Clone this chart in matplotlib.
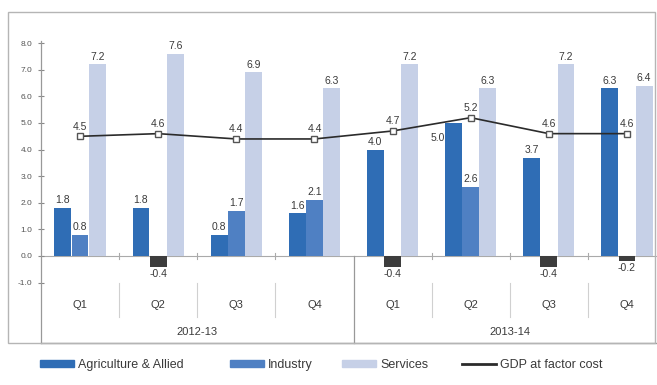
import numpy as np
import matplotlib
matplotlib.use("Agg")
import matplotlib.pyplot as plt
from matplotlib.patches import Patch, Rectangle
from matplotlib.lines import Line2D

plt.rcParams['font.family'] = ['Liberation Sans', 'DejaVu Sans']

quarters = ["Q1", "Q2", "Q3", "Q4", "Q1", "Q2", "Q3", "Q4"]
years = ["2012-13", "2013-14"]
agri = [1.8, 1.8, 0.8, 1.6, 4.0, 5.0, 3.7, 6.3]
industry = [0.8, -0.4, 1.7, 2.1, -0.4, 2.6, -0.4, -0.2]
services = [7.2, 7.6, 6.9, 6.3, 7.2, 6.3, 7.2, 6.4]
gdp = [4.5, 4.6, 4.4, 4.4, 4.7, 5.2, 4.6, 4.6]
yticks = [-1, 0, 1, 2, 3, 4, 5, 6, 7, 8]

c_agri = "#2f6db5"
c_ind = "#4f80c3"
c_neg = "#3d3d3d"
c_serv = "#c6d0e7"
c_gdp = "#2b2b2b"
c_txt = "#3a3a3a"

W, H = 657, 385
fig = plt.figure(figsize=(W / 100, H / 100), dpi=100)
# axes: left x=41, right ~657, top y=30, bottom y=343
ax = fig.add_axes([41 / W, 1 - 343 / H, (657 - 41) / W, (343 - 30) / H])

# outer chart frame
fig.patches.append(Rectangle((8 / W, 1 - 343 / H), (655 - 8) / W, (343 - 12) / H,
                             transform=fig.transFigure, fill=False,
                             edgecolor="#b5b5b5", linewidth=1.0))

x = np.arange(len(quarters))
bw = 0.215
off = 0.22
ind_colors = [c_ind if v >= 0 else c_neg for v in industry]
ax.bar(x - off, agri, bw, color=c_agri, zorder=2)
ax.bar(x, industry, bw, color=ind_colors, zorder=2)
ax.bar(x + off, services, bw, color=c_serv, zorder=2)
ax.plot(x, gdp, color=c_gdp, linewidth=1.2, marker="s", markersize=4,
        markerfacecolor="white", markeredgecolor="#555555", zorder=3)

fs = 7.5
for i in range(len(x)):
    # agriculture labels
    if i == 5:
        ax.text(x[i] - off - bw / 2, agri[i] - 0.55, f"{agri[i]:.1f}", ha="right",
                va="center", fontsize=fs, color=c_txt)
    else:
        ax.text(x[i] - off, agri[i] + 0.1, f"{agri[i]:.1f}", ha="center",
                va="bottom", fontsize=fs, color=c_txt)
    v = industry[i]
    if v >= 0:
        ax.text(x[i], v + 0.1, f"{v:.1f}", ha="center", va="bottom", fontsize=fs, color=c_txt)
    else:
        ax.text(x[i], v - 0.08, f"{v:.1f}", ha="center", va="top", fontsize=fs, color=c_txt)
    ax.text(x[i] + off, services[i] + 0.1, f"{services[i]:.1f}", ha="center",
            va="bottom", fontsize=fs, color=c_txt)
    ax.text(x[i], gdp[i] + 0.18, f"{gdp[i]:.1f}", ha="center", va="bottom",
            fontsize=fs, color=c_txt, zorder=4)

ax.set_xlim(-0.5, 7.5 - 9 / 78)
ax.set_ylim(-(343 - 256) / 26.6, (256 - 30) / 26.6)
ymin = ax.get_ylim()[0]
ax.set_yticks(yticks)
ax.set_yticklabels([f"{t:.1f}" for t in yticks], fontsize=6, color="#555555")
ax.tick_params(axis="y", direction="inout", length=4, width=0.8, color="#888888", pad=4)
ax.set_xticks([])
for s in ["top", "right", "bottom"]:
    ax.spines[s].set_visible(False)
ax.spines["left"].set_color("#999999")
ax.spines["left"].set_linewidth(0.9)
ax.spines["left"].set_bounds(ymin, 8.1)

# zero line and category area
ax.axhline(0, color="#aaaaaa", linewidth=0.8, zorder=1)
ax.plot([-0.5, 7.5], [ymin, ymin], color="#999999", linewidth=1.0, clip_on=False)
for b in np.arange(0.5, 7.5, 1.0):
    if b == 3.5:
        ax.plot([b, b], [0, ymin], color="#999999", linewidth=0.9, clip_on=False)
    else:
        ax.plot([b, b], [-0.1, 0.1], color="#aaaaaa", linewidth=0.8)
        ax.plot([b, b], [-1.0, -2.3], color="#d0d0d0", linewidth=0.8)
for i, q in enumerate(quarters):
    ax.text(x[i], -1.85, q, ha="center", va="center", fontsize=8, color=c_txt)
ax.text(1.5, -2.85, years[0], ha="center", va="center", fontsize=8, color=c_txt)
ax.text(5.5, -2.85, years[1], ha="center", va="center", fontsize=8, color=c_txt)

# legend entries placed one by one, like the reference spacing
handles = [Patch(color=c_agri), Patch(color=c_ind), Patch(color=c_serv),
           Line2D([], [], color=c_gdp, linewidth=2.0)]
labels = ["Agriculture & Allied", "Industry", "Services", "GDP at factor cost"]
leg_x = [40, 230, 342, 462]
for h, lab, lx in zip(handles, labels, leg_x):
    lg = fig.legend([h], [lab], loc="center left", bbox_to_anchor=(lx / W, 1 - 365 / H),
                    frameon=False, fontsize=9, handlelength=2.7, handleheight=0.45,
                    handletextpad=0.35, labelcolor=c_txt, borderaxespad=0, borderpad=0)

fig.savefig("out.png", dpi=100)
